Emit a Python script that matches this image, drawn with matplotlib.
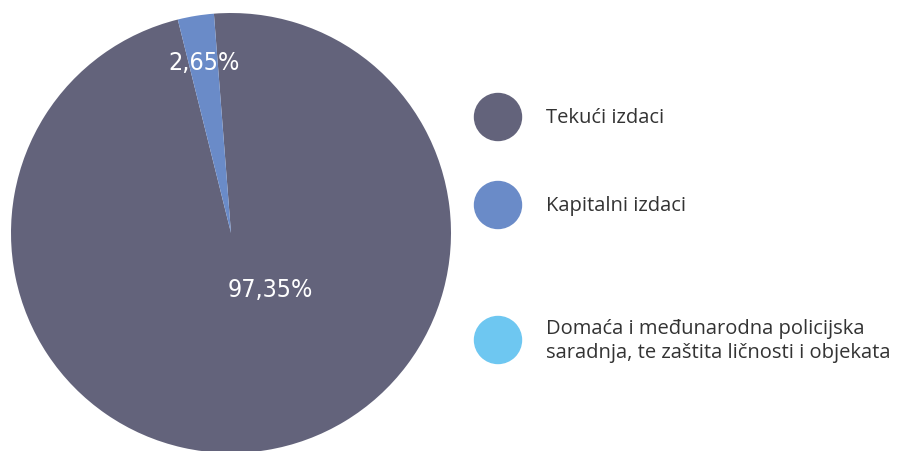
import matplotlib.pyplot as plt
from matplotlib.patches import Ellipse
import numpy as np

# podaci
kategorije = ["Tekući izdaci", "Kapitalni izdaci",
              "Domaća i međunarodna policijska\nsaradnja, te zaštita ličnosti i objekata"]
udjeli = [97.35, 2.65, 0.0]
boje = ["#63637b", "#6a8bc8", "#6ec7f1"]

fig = plt.figure(figsize=(9, 4.52), dpi=100)
ax = fig.add_axes([0, 0, 1, 1])

cx, cy, r = 231, 234, 220  # centar i radijus u pikselima
ax.pie(udjeli, colors=boje, startangle=104, radius=1.0, center=(0, 0),
       wedgeprops=dict(linewidth=0))
ax.set_aspect('auto')
ax.set_xlim(-cx / r, (900 - cx) / r)
ax.set_ylim(-(452 - cy) / r, cy / r)
ax.axis('off')

# oznake procenata (udaljenost, ugao)
oznake = [(0.31, -55.1), (0.785, 99.1)]
for (d, ugao), v in zip(oznake, udjeli[:2]):
    a = np.deg2rad(ugao)
    ax.text(d * np.cos(a), d * np.sin(a), f"{v:.2f}%".replace('.', ','),
            ha='center', va='center', color='white', fontsize=18,
            family=['DejaVu Sans'], fontstretch='condensed')

# legenda
leg_y = [118, 206, 341]
for k, b, y in zip(kategorije, boje, leg_y):
    fig.patches.append(Ellipse((498 / 900, 1 - y / 452), 47 / 900, 47 / 452, color=b,
                               transform=fig.transFigure, figure=fig))
    fig.text(546 / 900, 1 - y / 452, k, ha='left', va='center', fontsize=14.5,
             color='#333333', family=['Open Sans', 'DejaVu Sans'], linespacing=1.3)

fig.savefig("out.png", dpi=100)
